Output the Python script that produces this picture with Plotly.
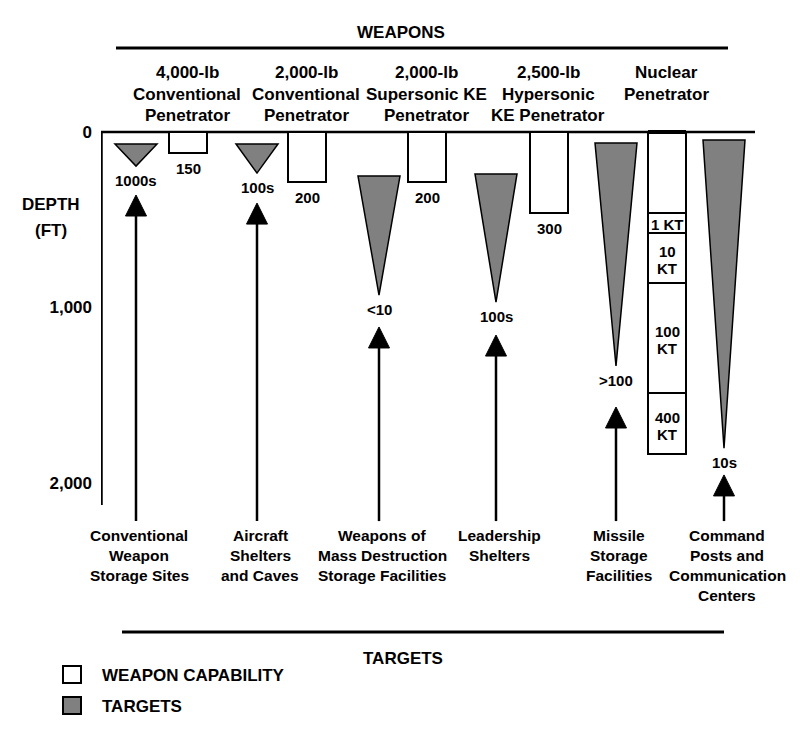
import plotly.graph_objects as go

# ---------------- data ----------------
weapon_names = [
    ["4,000-lb", "Conventional", "Penetrator"],
    ["2,000-lb", "Conventional", "Penetrator"],
    ["2,000-lb", "Supersonic KE", "Penetrator"],
    ["2,500-lb", "Hypersonic", "KE Penetrator"],
    ["Nuclear", "Penetrator"],
]
weapon_capability_ft = [120, 285, 285, 462]          # conventional / KE penetration depth (drawn)
weapon_capability_labels = ["150", "200", "200", "300"]
nuclear_band_edges_ft = [0, 462, 575, 860, 1487, 1835]
nuclear_band_labels = [[], ["1 KT"], ["10", "KT"], ["100", "KT"], ["400", "KT"]]

target_names = [
    ["Conventional", "Weapon", "Storage Sites"],
    ["Aircraft", "Shelters", "and Caves"],
    ["Weapons of", "Mass Destruction", "Storage Facilities"],
    ["Leadership", "Shelters"],
    ["Missile", "Storage", "Facilities"],
    ["Command", "Posts and", "Communication", "Centers"],
]
target_top_ft = [68, 68, 251, 239, 63, 46]
target_bottom_ft = [194, 234, 929, 969, 1333, 1801]
target_counts = ["1000s", "100s", "<10", "100s", ">100", "10s"]
arrow_tip_ft = [359, 405, 1111, 1157, 1567, 1954]
arrow_base_ft = 2217
axis_bottom_ft = 2125

depth_ticks = [0, 1000, 2000]

# ---------------- layout constants ----------------
W, H = 800, 732
ML = 101
weapon_x = [188, 307, 427, 549, 667]
target_x = [136, 257, 379, 496, 616, 724]
BOX_W = 38
TRI_W = 42
GRAY = "#808080"
FONT = "Liberation Sans, Arial, Helvetica, sans-serif"
PX_PER_FT = 0.1755
Y0 = 132  # pixel row of depth 0
y_top = -Y0 / PX_PER_FT
y_bot = (H - Y0) / PX_PER_FT
HEAD_W = 21
HEAD_H_FT = 21 / PX_PER_FT


def px_x(p):
    return (p - ML) / (W - ML)


def px_y(p):
    return 1 - p / H


fig = go.Figure()
# invisible trace so axes exist
fig.add_trace(go.Scatter(x=[ML], y=[0], mode="markers", marker=dict(opacity=0),
                         hoverinfo="skip", showlegend=False))

shapes = []
annos = []


def text(x, y, s, size=17, family=FONT, xref="paper", yref="paper", **kw):
    annos.append(dict(x=x, y=y, xref=xref, yref=yref, text=s, showarrow=False,
                      font=dict(family=family, size=size, color="black", weight="bold"),
                      **kw))


def multiline(xp, yp_first, lines, spacing, size, family=FONT):
    for i, ln in enumerate(lines):
        text(px_x(xp), px_y(yp_first + i * spacing), ln, size=size, family=family,
             xanchor="center", yanchor="middle")


# Title and rules
text(px_x(401), px_y(32), "WEAPONS", size=17, xanchor="center", yanchor="middle")
shapes.append(dict(type="line", xref="paper", yref="paper", x0=px_x(116), x1=px_x(728),
                   y0=px_y(48), y1=px_y(48), line=dict(color="black", width=3)))
for xc, lines in zip(weapon_x, weapon_names):
    multiline(xc - 1, 72, lines, 22, 17)

# frame: top and left lines
shapes.append(dict(type="line", xref="x", yref="y", x0=ML, x1=755, y0=0, y1=0,
                   line=dict(color="black", width=2.5)))
shapes.append(dict(type="line", xref="x", yref="y", x0=ML + 0.5, x1=ML + 0.5, y0=0,
                   y1=axis_bottom_ft, line=dict(color="black", width=2.5)))

# depth label
multiline(51, 205, ["DEPTH", "(FT)"], 25, 17)

# weapon capability boxes
for xc, d, lab in zip(weapon_x[:4], weapon_capability_ft, weapon_capability_labels):
    shapes.append(dict(type="rect", xref="x", yref="y", x0=xc - BOX_W / 2, x1=xc + BOX_W / 2,
                       y0=0, y1=d, fillcolor="white", line=dict(color="black", width=2)))
    text(xc, d, lab, size=15, xref="x", yref="y", xanchor="center", yanchor="top", yshift=-5)

# nuclear column
xn = weapon_x[4]
for i in range(len(nuclear_band_edges_ft) - 1):
    a, b = nuclear_band_edges_ft[i], nuclear_band_edges_ft[i + 1]
    shapes.append(dict(type="rect", xref="x", yref="y", x0=xn - BOX_W / 2, x1=xn + BOX_W / 2,
                       y0=a, y1=b, fillcolor="white", line=dict(color="black", width=2)))
    lines = nuclear_band_labels[i]
    if lines:
        mid_px = Y0 + (a + b) / 2 * PX_PER_FT + 2
        sp = 17
        start = mid_px - sp * (len(lines) - 1) / 2
        multiline(xn, start, lines, sp, 15)
shapes.append(dict(type="line", xref="x", yref="y", x0=xn - BOX_W / 2, x1=xn + BOX_W / 2,
                   y0=0, y1=0, line=dict(color="black", width=4)))

# targets: triangles, counts, arrows
for xc, t, b, cnt, tip in zip(target_x, target_top_ft, target_bottom_ft, target_counts, arrow_tip_ft):
    path = f"M {xc - TRI_W / 2},{t} L {xc + TRI_W / 2},{t} L {xc},{b} Z"
    shapes.append(dict(type="path", xref="x", yref="y", path=path, fillcolor=GRAY,
                       line=dict(color="black", width=1.5)))
    text(xc, b, cnt, size=15, xref="x", yref="y", xanchor="center",
         yanchor="top", yshift=-4)
    shapes.append(dict(type="line", xref="x", yref="y", x0=xc, x1=xc, y0=tip + HEAD_H_FT - 5,
                       y1=arrow_base_ft, line=dict(color="black", width=2.5)))
    head = f"M {xc},{tip} L {xc + HEAD_W / 2},{tip + HEAD_H_FT} L {xc - HEAD_W / 2},{tip + HEAD_H_FT} Z"
    shapes.append(dict(type="path", xref="x", yref="y", path=head, fillcolor="black",
                       line=dict(color="black", width=1)))

# target names
for xc, lines in zip(target_x, target_names):
    multiline(xc + 3, 535, lines, 20.3, 15.5)

# bottom rule + label
shapes.append(dict(type="line", xref="paper", yref="paper", x0=px_x(122), x1=px_x(724),
                   y0=px_y(632), y1=px_y(632), line=dict(color="black", width=3)))
text(px_x(403), px_y(658), "TARGETS", size=17, xanchor="center", yanchor="middle")

# legend
shapes.append(dict(type="rect", xref="paper", yref="paper", x0=px_x(63), x1=px_x(81),
                   y0=px_y(666), y1=px_y(683), fillcolor="white", line=dict(color="black", width=2)))
shapes.append(dict(type="rect", xref="paper", yref="paper", x0=px_x(63), x1=px_x(81),
                   y0=px_y(697), y1=px_y(714), fillcolor=GRAY, line=dict(color="black", width=2)))
text(px_x(100), px_y(675), "WEAPON CAPABILITY", size=17, xanchor="left", yanchor="middle")
text(px_x(100), px_y(706), "TARGETS", size=17, xanchor="left", yanchor="middle")

fig.update_layout(
    width=W, height=H,
    margin=dict(l=ML, r=0, t=0, b=0),
    paper_bgcolor="white", plot_bgcolor="white",
    showlegend=False,
    shapes=shapes, annotations=annos,
    xaxis=dict(range=[ML, W], visible=False, fixedrange=True),
    yaxis=dict(range=[y_bot, y_top], tickvals=depth_ticks,
               ticktext=[f"{v:,}" for v in depth_ticks],
               tickfont=dict(family=FONT, size=17, color="black", weight="bold"),
               showgrid=False, zeroline=False, showline=False, ticks="",
               ticklabelstandoff=8, fixedrange=True),
)

fig.write_html("out.html", config={"displayModeBar": False},
               post_script="document.body.style.margin='0';document.body.style.overflow='hidden';")
